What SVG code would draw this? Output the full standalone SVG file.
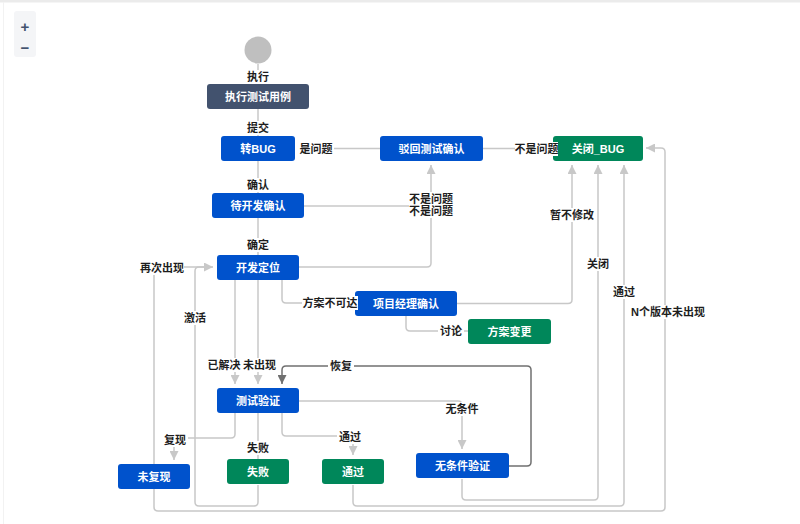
<svg xmlns="http://www.w3.org/2000/svg" width="800" height="524" viewBox="0 0 800 524">
<style>
.node-t{font-family:"Liberation Sans","Noto Sans CJK SC",sans-serif;font-size:11px;font-weight:bold;fill:#ffffff;text-anchor:middle;dominant-baseline:central}
.lbl{font-family:"Liberation Sans","Noto Sans CJK SC",sans-serif;font-size:11px;font-weight:bold;fill:#1d1d1d;text-anchor:middle;dominant-baseline:central}
.lbg{fill:#ffffff}
.c{fill:none;stroke:#c8c8c8;stroke-width:1.5}
.cd{fill:none;stroke:#707070;stroke-width:1.5}
.blue{fill:#0052cc}
.green{fill:#00875a}
.dark{fill:#42526e}
</style>
<defs>
<marker id="arr" markerUnits="userSpaceOnUse" viewBox="0 0 10 10" markerWidth="9" markerHeight="9" refX="10" refY="5" orient="auto">
<path d="M0,0 L10,5 L0,10 z" fill="#c8c8c8"/>
</marker>
<marker id="arrd" markerUnits="userSpaceOnUse" viewBox="0 0 10 10" markerWidth="9" markerHeight="9" refX="10" refY="5" orient="auto">
<path d="M0,0 L10,5 L0,10 z" fill="#707070"/>
</marker>
</defs>
<rect x="0" y="0" width="800" height="524" fill="#ffffff"/>
<rect x="0" y="0" width="800" height="2.5" fill="#ebebeb"/>
<line x1="3.5" y1="2" x2="3.5" y2="524" stroke="#f2f2f2" stroke-width="1"/>
<g id="zoom-controls">
<rect x="14" y="11" width="22" height="46" rx="3" fill="#f4f5f7"/>
<text x="25" y="26" font-family="Liberation Sans,sans-serif" font-size="15" font-weight="bold" fill="#42526e" text-anchor="middle" dominant-baseline="central">+</text>
<text x="25" y="47" font-family="Liberation Sans,sans-serif" font-size="15" font-weight="bold" fill="#42526e" text-anchor="middle" dominant-baseline="central">−</text>
</g>
<g id="connectors">
<path class="c" d="M258,64 V84"/>
<path class="c" d="M258,109 V136"/>
<path class="c" d="M258,161 V193"/>
<path class="c" d="M258,218 V255"/>
<path class="c" d="M380,148.5 H322"/>
<path class="c" d="M483,148.5 H545"/>
<path class="c" d="M304,206 H431"/>
<path class="c" d="M299,267 H427 Q431,267 431,263 V165" marker-end="url(#arr)"/>
<path class="c" d="M235,280 V384" marker-end="url(#arr)"/>
<path class="c" d="M258,280 V384" marker-end="url(#arr)"/>
<path class="c" d="M282,280 V299 Q282,303 286,303 H355"/>
<path class="c" d="M457,303.5 H568 Q572,303.5 572,299.5 V165" marker-end="url(#arr)"/>
<path class="c" d="M406,316 V327 Q406,331 410,331 H468"/>
<path class="c" d="M299,401 H458 Q462,401 462,405 V449" marker-end="url(#arr)"/>
<path class="cd" d="M509,466 H527 Q531,466 531,462 V370 Q531,366 527,366 H286 Q282,366 282,370 V384" marker-end="url(#arrd)"/>
<path class="c" d="M235,413 V434 Q235,438 231,438 H178 Q174,438 174,442 V460" marker-end="url(#arr)"/>
<path class="c" d="M258,413 V459"/>
<path class="c" d="M282,413 V432 Q282,436 286,436 H349 Q353,436 353,440 V455" marker-end="url(#arr)"/>
<path class="c" d="M154,464 V271 Q154,267 158,267 H213" marker-end="url(#arr)"/>
<path class="c" d="M258,485 V502 Q258,506 254,506 H199 Q195,506 195,502 V271 Q195,267 199,267 H205"/>
<path class="c" d="M353,485 V502 Q353,506 357,506 H620 Q624,506 624,502 V165" marker-end="url(#arr)"/>
<path class="c" d="M462,479 V496 Q462,500 466,500 H594 Q598,500 598,496 V165" marker-end="url(#arr)"/>
<path class="c" d="M154,489 V507 Q154,511 158,511 H661 Q665,511 665,507 V152 Q665,148 661,148 H646" marker-end="url(#arr)"/>
</g>
<g id="start"><circle cx="258" cy="50" r="13.5" fill="#bfbfbf"/></g>
<g id="n-exec"><rect class="dark" x="207" y="84" width="102" height="25" rx="3"/><text class="node-t" x="258" y="96.5">执行测试用例</text></g>
<g id="n-tobug"><rect class="blue" x="221" y="136" width="74" height="25" rx="3"/><text class="node-t" x="258" y="148.5">转BUG</text></g>
<g id="n-reject"><rect class="blue" x="380" y="136" width="103" height="25" rx="3"/><text class="node-t" x="431.5" y="148.5">驳回测试确认</text></g>
<g id="n-close"><rect class="green" x="553" y="136" width="90" height="25" rx="3"/><text class="node-t" x="598" y="148.5">关闭_BUG</text></g>
<g id="n-devconfirm"><rect class="blue" x="212" y="193" width="92" height="25" rx="3"/><text class="node-t" x="258" y="205.5">待开发确认</text></g>
<g id="n-locate"><rect class="blue" x="217" y="255" width="82" height="25" rx="3"/><text class="node-t" x="258" y="267.5">开发定位</text></g>
<g id="n-pm"><rect class="blue" x="355" y="291" width="102" height="25" rx="3"/><text class="node-t" x="406" y="303.5">项目经理确认</text></g>
<g id="n-change"><rect class="green" x="468" y="319" width="83" height="25" rx="3"/><text class="node-t" x="509.5" y="331.5">方案变更</text></g>
<g id="n-verify"><rect class="blue" x="217" y="388" width="82" height="25" rx="3"/><text class="node-t" x="258" y="400.5">测试验证</text></g>
<g id="n-uncond"><rect class="blue" x="416" y="453" width="93" height="25" rx="3"/><text class="node-t" x="462.5" y="465.5">无条件验证</text></g>
<g id="n-norepro"><rect class="blue" x="118" y="464" width="72" height="25" rx="3"/><text class="node-t" x="154" y="476.5">未复现</text></g>
<g id="n-fail"><rect class="green" x="227" y="459" width="62" height="25" rx="3"/><text class="node-t" x="258" y="471.5">失败</text></g>
<g id="n-pass"><rect class="green" x="322" y="459" width="62" height="25" rx="3"/><text class="node-t" x="353" y="471.5">通过</text></g>
<g id="connector-labels">
<rect class="lbg" x="245" y="70" width="26" height="14"/><text class="lbl" x="258" y="77">执行</text>
<rect class="lbg" x="245" y="121" width="26" height="14"/><text class="lbl" x="258" y="128">提交</text>
<rect class="lbg" x="245" y="178" width="26" height="14"/><text class="lbl" x="258" y="185">确认</text>
<rect class="lbg" x="245" y="238" width="26" height="14"/><text class="lbl" x="258" y="245">确定</text>
<rect class="lbg" x="298" y="142" width="36" height="14"/><text class="lbl" x="316" y="149">是问题</text>
<rect class="lbg" x="515" y="142" width="43" height="14"/><text class="lbl" x="536.5" y="149">不是问题</text>
<rect class="lbg" x="409" y="192" width="44" height="26"/><text class="lbl" x="431" y="199">不是问题</text><text class="lbl" x="431" y="211">不是问题</text>
<rect class="lbg" x="550" y="208" width="46" height="14"/><text class="lbl" x="572" y="215">暂不修改</text>
<rect class="lbg" x="585" y="257" width="26" height="14"/><text class="lbl" x="598" y="264">关闭</text>
<rect class="lbg" x="611" y="285" width="26" height="14"/><text class="lbl" x="624" y="292">通过</text>
<rect class="lbg" x="633" y="305" width="70" height="14"/><text class="lbl" x="668" y="312">N个版本未出现</text>
<rect class="lbg" x="140" y="261" width="44" height="14"/><text class="lbl" x="162" y="268">再次出现</text>
<rect class="lbg" x="182" y="311" width="26" height="14"/><text class="lbl" x="195" y="318">激活</text>
<rect class="lbg" x="302" y="296" width="56" height="14"/><text class="lbl" x="330" y="303">方案不可达</text>
<rect class="lbg" x="438" y="324" width="26" height="14"/><text class="lbl" x="451" y="331">讨论</text>
<rect class="lbg" x="206" y="358" width="36" height="14"/><text class="lbl" x="224" y="365">已解决</text>
<rect class="lbg" x="242" y="358" width="35" height="14"/><text class="lbl" x="259.5" y="365">未出现</text>
<rect class="lbg" x="328" y="359" width="26" height="14"/><text class="lbl" x="341" y="366">恢复</text>
<rect class="lbg" x="444" y="402" width="36" height="14"/><text class="lbl" x="462" y="409">无条件</text>
<rect class="lbg" x="162" y="433" width="26" height="14"/><text class="lbl" x="175" y="440">复现</text>
<rect class="lbg" x="245" y="441" width="26" height="14"/><text class="lbl" x="258" y="448">失败</text>
<rect class="lbg" x="337" y="430" width="26" height="14"/><text class="lbl" x="350" y="437">通过</text>
</g>
</svg>
